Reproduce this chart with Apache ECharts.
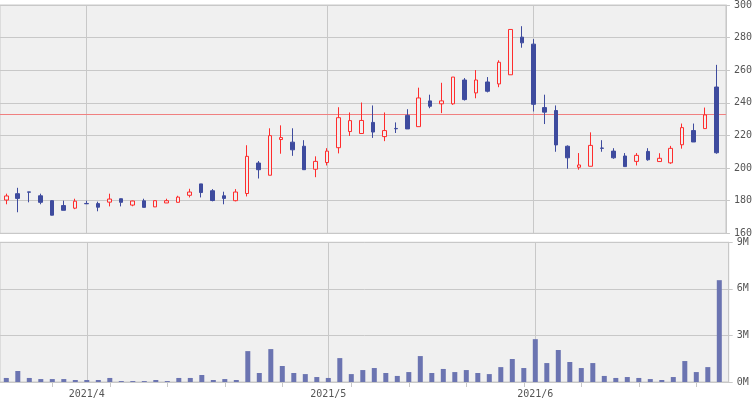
<!DOCTYPE html>
<html>
<head>
<meta charset="utf-8">
<script src="https://cdn.jsdelivr.net/npm/echarts@6/dist/echarts.min.js"></script>
<style>
html,body{margin:0;padding:0;background:#fff;}
#chart{width:755px;height:400px;}
</style>
</head>
<body>
<div id="chart"></div>
<script>
// Trading days (category labels)
const dates = [
  '2021/3/23','2021/3/24','2021/3/25','2021/3/26','2021/3/29','2021/3/30','2021/3/31',
  '2021/4/1','2021/4/2','2021/4/5','2021/4/6','2021/4/7','2021/4/8','2021/4/9',
  '2021/4/12','2021/4/13','2021/4/14','2021/4/15','2021/4/16','2021/4/19','2021/4/20',
  '2021/4/21','2021/4/22','2021/4/23','2021/4/26','2021/4/27','2021/4/28','2021/4/30',
  '2021/5/6','2021/5/7','2021/5/10','2021/5/11','2021/5/12','2021/5/13','2021/5/14',
  '2021/5/17','2021/5/18','2021/5/19','2021/5/20','2021/5/21','2021/5/24','2021/5/25',
  '2021/5/26','2021/5/27','2021/5/28','2021/5/31','2021/6/1','2021/6/2','2021/6/3',
  '2021/6/4','2021/6/7','2021/6/8','2021/6/9','2021/6/10','2021/6/11','2021/6/14',
  '2021/6/15','2021/6/16','2021/6/17','2021/6/18','2021/6/21','2021/6/22','2021/6/23'
];
const open = [
  180.4,184.3,185.4,183.0,180.0,177.0,175.4,178.3,178.2,179.1,181.2,177.3,179.9,176.2,
  178.6,179.0,183.3,190.3,186.1,183.0,180.0,184.4,203.1,195.6,217.5,215.9,213.4,199.3,
  203.4,212.5,222.4,221.2,228.0,219.3,224.3,232.3,225.4,241.2,239.4,239.4,254.0,246.1,
  252.8,251.6,257.2,280.3,276.0,237.1,235.3,213.4,200.5,201.1,212.3,210.4,207.4,204.1,
  210.2,204.0,203.2,214.3,223.0,224.2,249.7
];
const close = [
  182.9,181.4,185.2,179.0,171.1,174.1,179.7,178.1,176.0,181.0,179.0,179.8,175.9,180.0,
  180.0,182.2,185.3,185.0,180.1,181.4,185.3,207.2,199.0,219.9,218.7,211.2,199.0,204.1,
  210.4,230.9,229.1,229.2,222.1,223.0,224.1,224.0,243.0,237.9,241.2,255.8,242.0,254.0,
  247.1,264.9,285.0,276.8,239.1,234.3,214.2,206.3,201.9,213.9,212.1,206.3,200.9,207.8,
  205.1,206.0,212.1,224.8,216.0,232.6,209.4
];
const low = [
  177.8,172.9,179.0,177.8,171.0,174.1,174.8,178.0,173.5,176.5,176.5,176.6,175.9,176.1,
  178.6,178.9,182.0,182.0,179.6,177.8,179.6,182.6,193.6,195.6,208.8,207.5,199.0,194.4,
  201.6,209.0,219.7,221.2,218.5,216.5,221.5,224.0,225.4,236.7,233.7,238.8,241.4,242.8,
  246.4,249.6,257.2,273.8,234.7,227.0,210.0,199.6,199.0,201.1,210.0,205.7,200.9,201.6,
  204.5,203.9,202.6,211.9,216.0,224.2,208.8
];
const high = [
  184.3,187.9,185.4,184.3,180.2,180.0,181.2,180.0,179.4,184.3,181.3,180.0,181.2,180.0,
  181.2,183.0,187.3,190.3,187.1,185.5,187.1,214.0,204.3,224.4,226.2,224.4,217.1,207.2,
  212.2,237.3,234.1,240.2,238.4,234.1,228.0,236.1,249.3,245.0,252.3,255.8,255.2,260.1,
  255.8,266.1,285.0,287.0,279.1,245.0,238.4,213.9,209.2,221.9,217.1,212.2,209.2,209.2,
  212.2,209.1,213.6,227.3,227.3,237.1,263.3
];
// Volume in millions of shares
const volume = [
  0.26,0.71,0.26,0.19,0.19,0.19,0.13,0.13,0.13,0.26,0.06,0.06,0.06,0.13,
  0.06,0.26,0.26,0.45,0.13,0.19,0.13,1.99,0.58,2.12,1.03,0.58,0.51,0.32,
  0.26,1.54,0.51,0.77,0.90,0.58,0.39,0.64,1.67,0.58,0.84,0.64,0.77,0.58,
  0.51,0.96,1.48,0.90,2.76,1.22,2.06,1.29,0.90,1.22,0.39,0.26,0.32,0.26,
  0.19,0.13,0.32,1.35,0.64,0.96,6.56
];
const refPrice = 232.7;
const priceTicks = [160, 180, 200, 220, 240, 260, 280, 300];
const volTicks = [0, 3, 6, 9];

// derived: month-start indices and Monday indices
const parse = s => s.split('/').map(Number);
const monthStarts = [];
const mondays = [];
dates.forEach((d, i) => {
  const [y, m, dd] = parse(d);
  if (i > 0 && parse(dates[i - 1])[1] !== m) monthStarts.push(i);
  if (new Date(y, m - 1, dd).getDay() === 1) mondays.push(i);
});
const monthLabel = v => { const p = parse(dates[Math.round(v)]); return p[0] + '/' + p[1]; };

const PX = 11.5, X0 = 6.3, W = 728.7;
const XMIN = -X0 / PX, XMAX = XMIN + W / PX;

const GRID = '#c8c8c8', BG = '#f0f0f0', TXT = '#555';
const FONT = 'DejaVu Sans Mono';
const UP = '#ff2d2d', DOWN = '#3e4b9e', VOL = '#6b74b1';

const vLines = monthStarts.map(i => ({ xAxis: i }));

const chart = echarts.init(document.getElementById('chart'), null, { renderer: 'canvas' });
chart.setOption({
  animation: false,
  backgroundColor: '#ffffff',
  grid: [
    { left: 0, top: 3.3, width: W, height: 230, show: true, backgroundColor: BG, borderColor: GRID, borderWidth: 1 },
    { left: 0, top: 242.3, width: W, height: 139.7, show: true, backgroundColor: BG, borderColor: GRID, borderWidth: 1 }
  ],
  xAxis: [
    { gridIndex: 0, type: 'value', min: XMIN, max: XMAX, show: false },
    {
      gridIndex: 1, type: 'value', min: XMIN, max: XMAX,
      axisLine: { show: true, onZero: false, lineStyle: { color: GRID } },
      axisTick: { show: true, customValues: mondays, length: 5, lineStyle: { color: GRID } },
      axisLabel: { customValues: monthStarts, formatter: monthLabel, margin: 7, color: TXT, fontFamily: FONT, fontSize: 10 },
      splitLine: { show: false }
    }
  ],
  yAxis: [
    {
      gridIndex: 0, type: 'value', position: 'right', min: priceTicks[0], max: priceTicks[priceTicks.length - 1], interval: 20,
      axisLine: { show: true, onZero: false, lineStyle: { color: GRID } },
      axisTick: { show: true, length: 4, lineStyle: { color: GRID } },
      axisLabel: { margin: 8, color: TXT, fontFamily: FONT, fontSize: 10 },
      splitLine: { show: true, lineStyle: { color: GRID } }
    },
    {
      gridIndex: 1, type: 'value', position: 'right', min: volTicks[0], max: volTicks[volTicks.length - 1], interval: 3,
      axisLine: { show: true, onZero: false, lineStyle: { color: GRID } },
      axisTick: { show: true, length: 4, lineStyle: { color: GRID } },
      axisLabel: { margin: 8, color: TXT, fontFamily: FONT, fontSize: 10, formatter: '{value}M' },
      splitLine: { show: true, lineStyle: { color: GRID } }
    }
  ],
  series: [
    {
      type: 'candlestick', xAxisIndex: 0, yAxisIndex: 0, z: 3,
      data: dates.map((_, i) => [i, open[i], close[i], low[i], high[i]]),
      encode: { x: 0, y: [1, 2, 3, 4] },
      barWidth: 4,
      itemStyle: { color: BG, color0: DOWN, borderColor: UP, borderColor0: DOWN, borderWidth: 1 },
      markLine: {
        silent: true, symbol: 'none', z: 1, animation: false,
        label: { show: false },
        data: [
          ...vLines.map(v => ({ ...v, lineStyle: { color: GRID, width: 1, type: 'solid' } })),
          { yAxis: refPrice, lineStyle: { color: '#f08080', width: 1, type: 'solid' } }
        ]
      }
    },
    {
      type: 'bar', xAxisIndex: 1, yAxisIndex: 1, z: 3,
      data: volume.map((v, i) => [i, v]),
      barWidth: 5,
      itemStyle: { color: VOL },
      markLine: {
        silent: true, symbol: 'none', z: 1, animation: false,
        label: { show: false },
        lineStyle: { color: GRID, width: 1, type: 'solid' },
        data: vLines
      }
    }
  ]
});
</script>
</body>
</html>
